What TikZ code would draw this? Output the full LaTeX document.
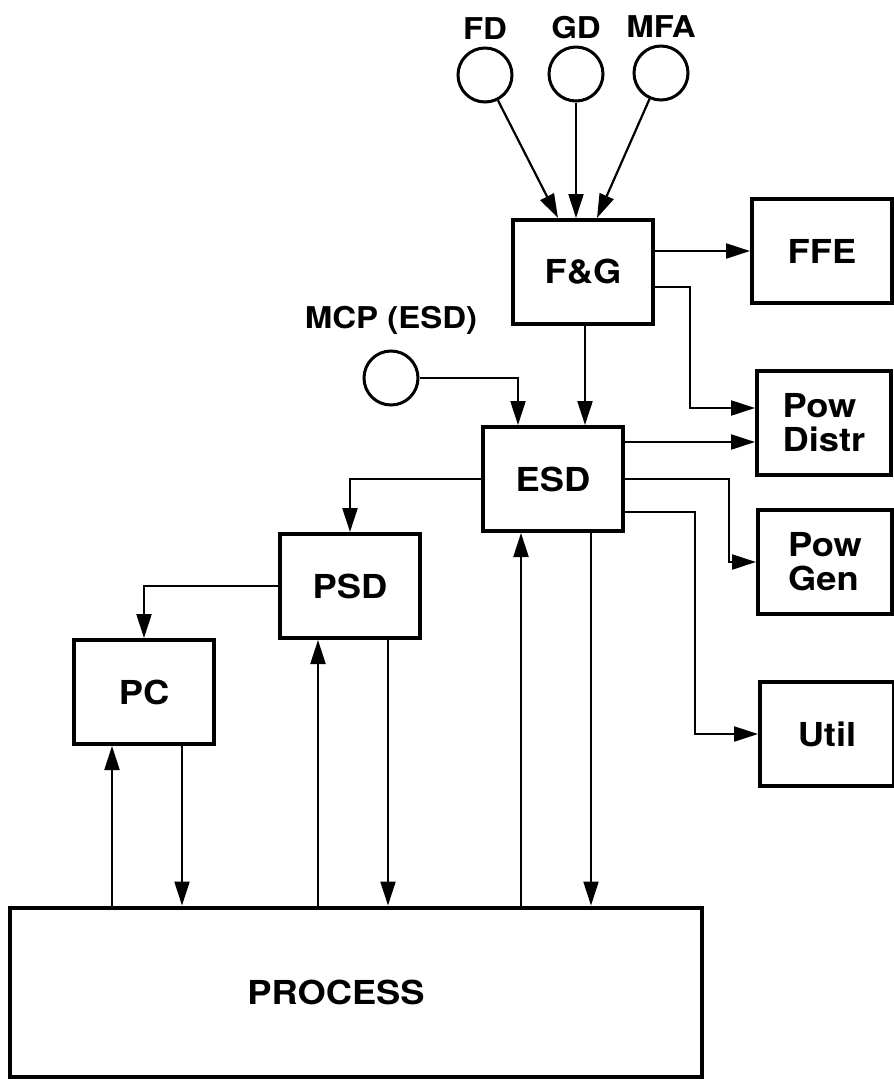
\documentclass[tikz,border=0pt]{standalone}
\usepackage{fontspec}
\setmainfont[FakeStretch=1.1]{TeX Gyre Heros}
\usepackage{tikz}
\usetikzlibrary{arrows.meta, positioning, calc}

\begin{document}
\begin{tikzpicture}[
  x=0.5pt, y=-0.5pt,
  box/.style={draw, line width=2pt, inner sep=0pt, minimum width=70pt, minimum height=52pt, font=\fontsize{16.5}{17}\selectfont\bfseries, align=left},
  sidebox/.style={box, minimum width=67pt},
  srcnode/.style={draw, circle, line width=1.5pt, inner sep=0pt, minimum size=27pt, label distance=1pt},
  lbl/.style={font=\fontsize{15}{16}\selectfont\bfseries},
  arr/.style={line width=1.1pt, -{Triangle[length=12pt, width=7.5pt]}},
]
\useasboundingbox (0,0) rectangle (894,1082);

% Sources
\node[srcnode, label={[lbl]above:FD}] (fd) at (485,75) {};
\node[srcnode, label={[lbl]above:GD}] (gd) at (576,74) {};
\node[srcnode, label={[lbl]above:MFA}] (mfa) at (661,73) {};
\node[srcnode, label={[lbl, label distance=4pt]above:MCP (ESD)}] (mcp) at (391,378) {};

% Controllers
\node[box] (fg) at (583,272) {F\&G};
\node[box] (esd) at (553,479) {ESD};
\node[box] (psd) at (350,586) {PSD};
\node[box] (pc) at (144,692) {PC};

% Outputs
\node[box] (ffe) at (822,251) {FFE};
\node[sidebox] (pdist) at (824,423) {Pow\\Distr};
\node[sidebox] (pgen) at (825,562) {Pow\\Gen};
\node[sidebox] (util) at (827,734) {Util};

% Process
\node[box, minimum width=346pt, minimum height=84.5pt, label={[font=\fontsize{16.5}{17}\selectfont\bfseries, xshift=-10pt]center:PROCESS}] (process) at (356,992) {};

% Sources -> F&G
\draw[arr] (fd) -- ($(fg.north)+(-25,0)$);
\draw[arr] (gd) -- (gd |- fg.north);
\draw[arr] (mfa) -- ($(fg.north)+(14,0)$);

% F&G -> outputs, ESD
\draw[arr] (fg.east |- ffe.west) -- (ffe.west);
\draw[arr] ($(fg.east)+(0,15)$) -- ++(35,0) |- ($(pdist.west)+(0,-15)$);
\draw[arr] ($(fg.south)+(2,0)$) -- ($(fg.south |- esd.north)+(2,0)$);
\draw[arr] (mcp.east) -| ($(esd.north)+(-35,0)$);

% ESD -> outputs
\draw[arr] ($(esd.east)+(0,-37)$) -- ($(pdist.west)+(0,19)$);
\draw[arr] (esd.east) -- ++(104,0) |- (pgen.west);
\draw[arr] ($(esd.east)+(0,33)$) -- ++(70,0) |- (util.west);

% Cascade
\draw[arr] (esd.west) -| (psd.north);
\draw[arr] (psd.west) -| (pc.north);

% Loops with the process
\foreach \n in {pc, psd, esd}{
  \coordinate (\n-up) at ($(\n.south)+(-32,0)$);
  \coordinate (\n-dn) at ($(\n.south)+(38,0)$);
  \draw[arr] (\n-up |- process.north) -- (\n-up);
  \draw[arr] (\n-dn) -- (\n-dn |- process.north);
}
\end{tikzpicture}
\end{document}
